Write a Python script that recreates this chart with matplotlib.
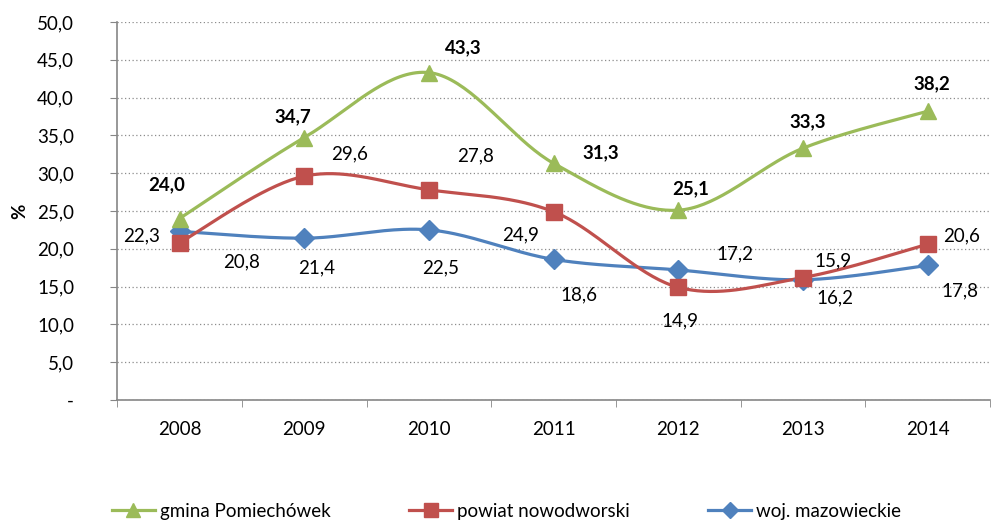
import numpy as np
import matplotlib
matplotlib.use("Agg")
import matplotlib.pyplot as plt
from matplotlib.lines import Line2D

plt.rcParams['font.family'] = ['Lato', 'DejaVu Sans']

years = ["2008", "2009", "2010", "2011", "2012", "2013", "2014"]
gmina = [24.0, 34.7, 43.3, 31.3, 25.1, 33.3, 38.2]
powiat = [20.8, 29.6, 27.8, 24.9, 14.9, 16.2, 20.6]
woj = [22.3, 21.4, 22.5, 18.6, 17.2, 15.9, 17.8]
y_ticks = [0, 5, 10, 15, 20, 25, 30, 35, 40, 45, 50]
y_tick_labels = ["-", "5,0", "10,0", "15,0", "20,0", "25,0", "30,0",
                 "35,0", "40,0", "45,0", "50,0"]

GREEN = "#9BBB59"
RED = "#C0504D"
BLUE = "#4F81BD"
FS = 13.5


def smooth(xs, ys, n=40):
    """Cubic Bezier smoothing through every point (tangent = neighbour diff / 6)."""
    xs = np.asarray(xs, float)
    ys = np.asarray(ys, float)
    pts = np.column_stack([xs, ys])
    out = []
    for i in range(len(pts) - 1):
        p0 = pts[i - 1] if i > 0 else pts[i]
        p1 = pts[i]
        p2 = pts[i + 1]
        p3 = pts[i + 2] if i + 2 < len(pts) else pts[i + 1]
        c1 = p1 + (p2 - p0) / 6.0
        c2 = p2 - (p3 - p1) / 6.0
        t = np.linspace(0, 1, n)[:, None]
        seg = ((1 - t) ** 3) * p1 + 3 * ((1 - t) ** 2) * t * c1 + 3 * (1 - t) * t ** 2 * c2 + t ** 3 * p2
        out.append(seg if i == 0 else seg[1:])
    seg = np.vstack(out)
    return seg[:, 0], seg[:, 1]


fig = plt.figure(figsize=(9.93, 5.22), dpi=100)
ax = fig.add_axes([0.118, 0.2337, 0.879, 0.7243])

x = np.arange(len(years))

series = [
    (woj, BLUE, "D", 10, "woj. mazowieckie"),
    (powiat, RED, "s", 11, "powiat nowodworski"),
    (gmina, GREEN, "^", 11, "gmina Pomiechówek"),
]
for vals, col, mk, ms, name in series:
    sx, sy = smooth(x, vals)
    ax.plot(sx, sy, color=col, lw=2.3, solid_capstyle="round", zorder=3)
    ax.plot(x, vals, linestyle="none", marker=mk, markersize=ms,
            color=col, markeredgecolor=col, zorder=4)

# data labels: offsets in pixels from each marker
g_off = [(-13, 34), (-11, 21), (34, 25), (47, 11), (12, 21), (5, 26), (4, 27)]
p_off = [(62, -19), (45, 22), (47, 34), (-33, -23), (2, -34), (32, -20), (34, 8)]
w_off = [(-38, -4), (12, -30), (12, -38), (25, -36), (57, 16), (30, 19), (32, -25)]

for vals, offs, weight in [(gmina, g_off, "bold"), (powiat, p_off, "normal"), (woj, w_off, "normal")]:
    for i, v in enumerate(vals):
        ax.annotate(f"{v:.1f}".replace(".", ","), (x[i], v),
                    xytext=offs[i], textcoords="offset pixels",
                    ha="center", va="center", fontsize=FS,
                    fontweight=weight, color="black", zorder=5)

ax.set_xlim(-0.5, len(years) - 0.5)
ax.set_ylim(0, 50)
ax.set_yticks(y_ticks)
ax.set_yticklabels(y_tick_labels, fontsize=FS)
ax.set_xticks(x)
ax.set_xticklabels(years, fontsize=FS)
ax.tick_params(axis="x", length=0, pad=15)
ax.set_xticks(np.arange(-0.5, len(years)), minor=True)
ax.tick_params(axis="x", which="minor", length=5, color="#868686", direction="out")
ax.tick_params(axis="y", length=5, color="#868686", direction="out", pad=26)

ax.grid(axis="y", linestyle=(0, (1, 2)), color="#8c8c8c", lw=0.9)
ax.set_axisbelow(True)
for s in ["top", "right"]:
    ax.spines[s].set_visible(False)
for s in ["left", "bottom"]:
    ax.spines[s].set_color("#868686")
    ax.spines[s].set_linewidth(1.2)

ax.set_ylabel("%", fontsize=FS, fontweight="bold", labelpad=6)

handles = [
    Line2D([], [], color=GREEN, lw=2.3, marker="^", markersize=10, label="gmina Pomiechówek"),
    Line2D([], [], color=RED, lw=2.3, marker="s", markersize=10, label="powiat nowodworski"),
    Line2D([], [], color=BLUE, lw=2.3, marker="D", markersize=8, label="woj. mazowieckie"),
]
fig.legend(handles=handles, loc="lower center", bbox_to_anchor=(0.51, -0.028),
           ncol=3, frameon=False, fontsize=FS, handlelength=2.3,
           handletextpad=0.25, columnspacing=4.2)

fig.savefig("out.png", dpi=100)
